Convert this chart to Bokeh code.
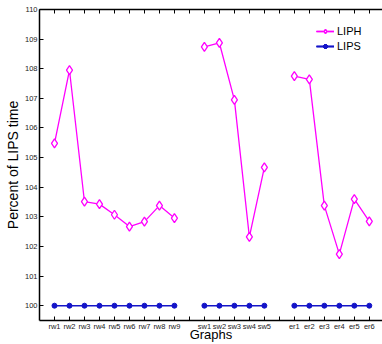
from bokeh.plotting import figure
from bokeh.models import Range1d, LinearAxis, FixedTicker
from bokeh.embed import file_html
from bokeh.resources import INLINE

# ---- data ----
rw_labels = ["rw1", "rw2", "rw3", "rw4", "rw5", "rw6", "rw7", "rw8", "rw9"]
sw_labels = ["sw1", "sw2", "sw3", "sw4", "sw5"]
er_labels = ["er1", "er2", "er3", "er4", "er5", "er6"]

liph_rw = [105.48, 107.95, 103.51, 103.43, 103.07, 102.67, 102.84, 103.38, 102.96]
liph_sw = [108.74, 108.87, 106.95, 102.32, 104.67]
liph_er = [107.75, 107.64, 103.38, 101.74, 103.60, 102.85]

lips_rw = [100, 100, 100, 100, 100, 100, 100, 100, 100]
lips_sw = [100, 100, 100, 100, 100]
lips_er = [100, 100, 100, 100, 100, 100]

y_ticks = [100, 101, 102, 103, 104, 105, 106, 107, 108, 109, 110]

FONT = "Liberation Sans"
MAGENTA = "#ff00ff"
BLUE = "#1414c8"

groups = [(rw_labels, liph_rw, lips_rw), (sw_labels, liph_sw, lips_sw), (er_labels, liph_er, lips_er)]

p = figure(width=382, height=344, output_backend="svg", toolbar_location=None,
           x_range=Range1d(0, 22.88), y_range=Range1d(99.5, 110),
           min_border_left=39, min_border_top=9, min_border_right=0, min_border_bottom=0)
p.outline_line_color = None
p.grid.visible = False
p.background_fill_color = "white"
p.border_fill_color = "white"

all_ticks = []
overrides = {}
pos = 1
for labels, liph, lips in groups:
    xs = list(range(pos, pos + len(labels)))
    for x, lab in zip(xs, labels):
        overrides[x] = lab
    all_ticks.extend(xs)
    p.line(xs, lips, line_color=BLUE, line_width=1.5, legend_label="LIPS")
    p.scatter(xs, lips, marker="circle", size=5, fill_color=BLUE, line_color=BLUE, legend_label="LIPS")
    p.line(xs, liph, line_color=MAGENTA, line_width=1.3, legend_label="LIPH")
    p.scatter(xs, liph, marker="diamond", size=9, fill_color="white", line_color=MAGENTA,
              line_width=1.3, legend_label="LIPH")
    pos += len(labels)
    if pos < 22:
        all_ticks.append(pos)
        overrides[pos] = ""
        pos += 1

all_ticks = sorted(all_ticks)

xa = p.xaxis[0]
xa.ticker = FixedTicker(ticks=all_ticks)
xa.major_label_overrides = {k: v for k, v in overrides.items()}
xa.axis_label = "Graphs"

ya = p.yaxis[0]
ya.ticker = FixedTicker(ticks=y_ticks)
ya.axis_label = "Percent of LIPS time"

for ax in (xa, ya):
    ax.axis_line_width = 1.5
    ax.axis_line_color = "black"
    ax.major_tick_in = 4
    ax.major_tick_out = 0
    ax.minor_tick_line_color = None
    ax.major_tick_line_color = "black"
    ax.major_label_text_font = FONT
    ax.major_label_text_color = "#222222"
    ax.axis_label_text_font = FONT
    ax.axis_label_text_font_style = "normal"
    ax.axis_label_text_color = "black"

xa.major_label_text_font_size = "7.5px"
xa.major_label_standoff = 1
xa.axis_label_standoff = -7
xa.axis_label_text_font_size = "13px"
ya.major_label_text_font_size = "7.5px"
ya.major_label_standoff = 2
ya.axis_label_standoff = 1
ya.axis_label_text_font_size = "14px"

top = LinearAxis(ticker=FixedTicker(ticks=all_ticks), major_label_text_font_size="0px",
                 major_label_standoff=0, major_tick_in=4, major_tick_out=0,
                 minor_tick_line_color=None, axis_line_width=1.5)
top.major_label_overrides = {k: "" for k in all_ticks}
p.add_layout(top, "above")

lg = p.legend[0]
lg.items = sorted(lg.items, key=lambda it: it.label.value != "LIPH")
lg.location = (277, 267)
lg.border_line_color = None
lg.background_fill_alpha = 0
lg.padding = 0
lg.margin = 0
lg.spacing = 0
lg.label_height = 15
lg.glyph_height = 10
lg.glyph_width = 18
lg.label_standoff = 3
lg.label_text_font = FONT
lg.label_text_font_size = "11px"
lg.label_text_color = "black"

open("out.html", "w").write(file_html(p, INLINE))
